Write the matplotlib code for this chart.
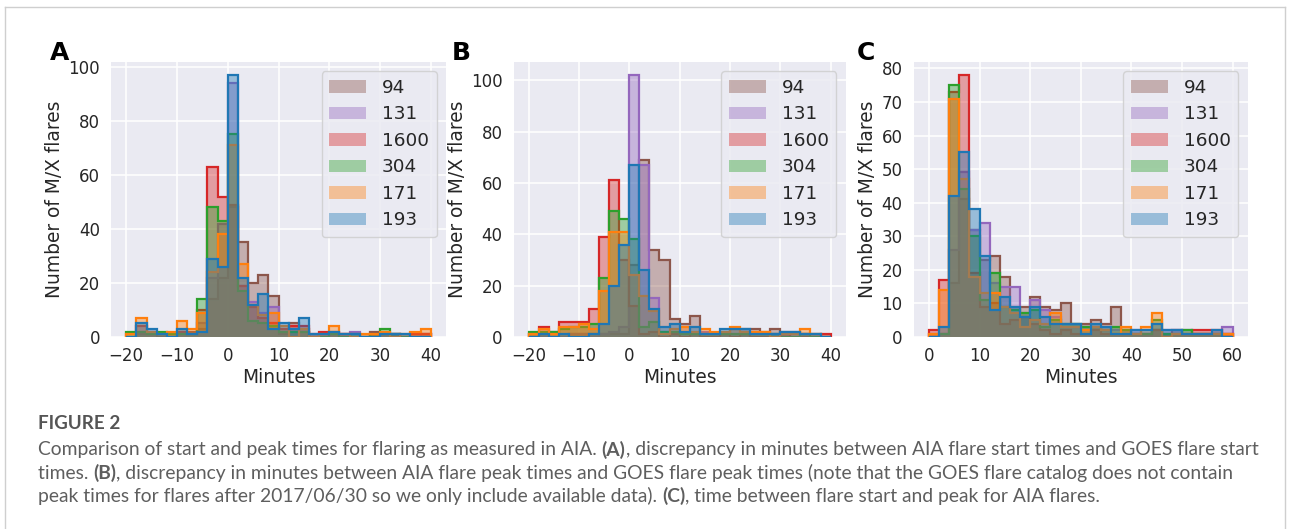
import numpy as np
import matplotlib
matplotlib.use("Agg")
import matplotlib.pyplot as plt
from matplotlib.transforms import IdentityTransform
from matplotlib.lines import Line2D

# ---------------- data ----------------
wavelengths = ["94", "131", "1600", "304", "171", "193"]
colors = ["tab:brown", "tab:purple", "tab:red", "tab:green", "tab:orange", "tab:blue"]

bin_width = 2
edges_A = np.arange(-20, 40 + bin_width, bin_width)
edges_B = np.arange(-20, 40 + bin_width, bin_width)
edges_C = np.arange(0, 60 + bin_width, bin_width)

# Panel A: AIA start - GOES start (minutes), counts per 2-min bin from -20
A94   = [0, 1, 1, 0, 1, 1, 2, 3, 14, 22, 48, 35, 20, 23, 15, 1, 5, 2, 0, 0, 1, 0, 0, 0, 2, 1, 1, 0, 1, 1]
A131  = [0, 2, 1, 1, 1, 2, 1, 5, 22, 42, 94, 19, 13, 9, 11, 3, 2, 3, 0, 1, 1, 1, 2, 0, 1, 1, 0, 0, 0, 1]
A1600 = [0, 4, 2, 1, 0, 2, 1, 10, 63, 52, 49, 19, 11, 7, 5, 3, 4, 4, 1, 2, 2, 1, 0, 0, 1, 1, 1, 0, 1, 1]
A304  = [2, 2, 1, 2, 1, 1, 1, 14, 48, 43, 75, 17, 6, 5, 4, 2, 2, 2, 0, 0, 1, 0, 1, 0, 1, 3, 1, 0, 0, 0]
A171  = [1, 7, 2, 1, 2, 6, 3, 9, 24, 38, 71, 27, 12, 8, 9, 4, 0, 3, 0, 1, 4, 1, 0, 1, 1, 2, 0, 1, 2, 3]
A193  = [0, 5, 3, 1, 0, 3, 1, 2, 29, 26, 97, 22, 12, 16, 3, 5, 3, 7, 1, 1, 2, 1, 1, 0, 0, 1, 1, 1, 0, 0]

# Panel B: AIA peak - GOES peak (minutes), counts per 2-min bin from -20
B94   = [0, 1, 0, 0, 1, 1, 1, 1, 1, 1, 28, 69, 34, 30, 7, 5, 8, 1, 1, 2, 3, 3, 3, 2, 3, 2, 2, 1, 1, 0]
B131  = [0, 0, 0, 0, 1, 1, 0, 1, 2, 4, 102, 67, 15, 2, 1, 1, 1, 2, 1, 1, 1, 1, 1, 1, 1, 1, 0, 1, 0, 0]
B1600 = [1, 4, 2, 6, 6, 6, 11, 39, 61, 30, 12, 1, 2, 0, 1, 0, 1, 0, 0, 1, 0, 1, 0, 0, 0, 1, 0, 0, 0, 1]
B304  = [2, 2, 2, 3, 4, 4, 5, 23, 49, 46, 38, 4, 6, 2, 2, 1, 1, 1, 1, 1, 1, 1, 1, 1, 1, 0, 0, 1, 0, 0]
B171  = [1, 3, 1, 4, 4, 5, 3, 18, 41, 41, 24, 16, 10, 1, 3, 4, 2, 3, 2, 2, 4, 2, 2, 2, 0, 1, 1, 3, 1, 0]
B193  = [0, 1, 0, 1, 0, 0, 1, 5, 20, 36, 67, 26, 11, 4, 5, 2, 4, 1, 1, 3, 3, 3, 1, 1, 1, 2, 2, 1, 1, 0]

# Panel C: AIA start -> peak (minutes), counts per 2-min bin from 0
C94   = [1, 1, 16, 41, 32, 23, 24, 18, 9, 9, 12, 9, 8, 10, 4, 4, 5, 4, 9, 2, 1, 1, 2, 1, 2, 1, 1, 1, 1, 1]
C131  = [0, 1, 26, 49, 32, 34, 16, 15, 15, 7, 11, 8, 6, 3, 3, 3, 3, 2, 2, 2, 2, 1, 2, 2, 2, 2, 1, 1, 1, 3]
C1600 = [2, 17, 73, 78, 19, 9, 10, 4, 5, 6, 4, 2, 1, 2, 1, 1, 2, 1, 1, 1, 1, 1, 2, 1, 1, 1, 2, 2, 2, 1]
C304  = [0, 1, 75, 44, 30, 11, 19, 9, 8, 7, 8, 3, 5, 4, 4, 3, 3, 2, 3, 2, 1, 1, 5, 1, 1, 2, 1, 1, 1, 0]
C171  = [1, 14, 71, 47, 18, 13, 13, 9, 7, 3, 5, 4, 7, 3, 3, 2, 3, 2, 1, 3, 1, 3, 7, 0, 1, 1, 1, 1, 1, 1]
C193  = [0, 3, 42, 55, 38, 24, 8, 12, 9, 6, 9, 6, 4, 4, 4, 1, 4, 3, 1, 1, 2, 2, 4, 2, 2, 1, 1, 1, 2, 0]

panels = [
    ("A", edges_A, [A94, A131, A1600, A304, A171, A193], [-20, -10, 0, 10, 20, 30, 40], [0, 20, 40, 60, 80, 100]),
    ("B", edges_B, [B94, B131, B1600, B304, B171, B193], [-20, -10, 0, 10, 20, 30, 40], [0, 20, 40, 60, 80, 100]),
    ("C", edges_C, [C94, C131, C1600, C304, C171, C193], [0, 10, 20, 30, 40, 50, 60], [0, 10, 20, 30, 40, 50, 60, 70, 80]),
]

xlabel = "Minutes"
ylabel = "Number of M/X flares"

caption_title = "FIGURE 2"
caption_lines = [
    [("Comparison of start and peak times for flaring as measured in AIA. ", "normal"), ("(A)", "bold"),
     (", discrepancy in minutes between AIA flare start times and GOES flare start", "normal")],
    [("times. ", "normal"), ("(B)", "bold"),
     (", discrepancy in minutes between AIA flare peak times and GOES flare peak times (note that the GOES flare catalog does not contain", "normal")],
    [("peak times for flares after 2017/06/30 so we only include available data). ", "normal"), ("(C)", "bold"),
     (", time between flare start and peak for AIA flares.", "normal")],
]

# ---------------- style ----------------
plt.rcParams.update({
    "font.family": ["DejaVu Sans"],
    "axes.facecolor": "#EAEAF2",
    "axes.edgecolor": "white",
    "axes.grid": True,
    "axes.axisbelow": True,
    "grid.color": "white",
    "grid.linewidth": 1.1,
    "text.color": ".15",
    "axes.labelcolor": ".15",
    "xtick.color": ".15",
    "ytick.color": ".15",
    "xtick.major.size": 0,
    "ytick.major.size": 0,
    "xtick.major.pad": 7.5,
    "ytick.major.pad": 8,
    "legend.frameon": True,
    "legend.framealpha": 0.8,
    "legend.edgecolor": "0.8",
    "legend.facecolor": "#EAEAF2",
})

W, H = 1290, 529
fig = plt.figure(figsize=(W / 100, H / 100), dpi=100)

# axes boxes in pixel coordinates (left, top, right, bottom)
boxes = [(111, 62, 446, 337), (513.5, 62, 845.7, 337), (913.8, 62, 1247.7, 337)]
letter_pos = [(50, 59.5), (452, 60), (857, 60)]

for (letter, edges, series, xt, yt), (l, t, r, b), (lx, ly) in zip(panels, boxes, letter_pos):
    ax = fig.add_axes([l / W, 1 - b / H, (r - l) / W, (b - t) / H])
    for spine in ax.spines.values():
        spine.set_visible(False)
    for name, col, vals in zip(wavelengths, colors, series):
        ax.stairs(vals, edges, fill=True, color=col, alpha=0.4, label=name, linewidth=0)
        ax.stairs(vals, edges, fill=False, color=col, linewidth=1.6)
    ax.set_xticks(xt)
    ax.set_yticks(yt)
    ax.set_xticklabels([str(v).replace("-", "\u2212") for v in xt])
    ax.tick_params(labelsize=12)
    ax.set_xlabel(xlabel, fontsize=13.4, labelpad=2)
    ax.set_ylabel(ylabel, fontsize=13.4, labelpad=3)
    handles, labels = ax.get_legend_handles_labels()
    ax.legend(handles, labels, loc="upper right", fontsize=13.3, handlelength=2.0,
              handletextpad=0.85, borderpad=0.42, labelspacing=0.46)
    fig.text(lx / W, 1 - ly / H, letter, fontsize=18, fontweight="bold", color="black",
             ha="left", va="baseline", family="DejaVu Sans")

# ---------------- caption ----------------
renderer = fig.canvas.get_renderer()
cap_color = "#5e5e5e"
cap_family = "Lato"


def line_width(segments, size):
    total = 0.0
    for txt, wt in segments:
        t = fig.text(0, 0, txt, fontsize=size, fontweight=wt, family=cap_family,
                     transform=IdentityTransform())
        total += t.get_window_extent(renderer).width
        t.remove()
    return total


x0 = 38
target = 1255 - x0
size = 12.0
size = size * target / line_width(caption_lines[0], size)

fig.text(x0, H - 429, caption_title, fontsize=size * 0.98, fontweight="bold", family=cap_family,
         color="#555555", transform=IdentityTransform(), va="baseline", ha="left")

baselines = [455.5, 479, 502]
for segs, yb in zip(caption_lines, baselines):
    x = x0
    for txt, wt in segs:
        t = fig.text(x, H - yb, txt, fontsize=size, fontweight=wt, family=cap_family,
                     color=cap_color, transform=IdentityTransform(), va="baseline", ha="left")
        x += t.get_window_extent(renderer).width

# outer frame
frame_col = "#cfcfcf"
fig.add_artist(Line2D([5 / W, 1285 / W], [1 - 7 / H, 1 - 7 / H], transform=fig.transFigure, color=frame_col, lw=1))
fig.add_artist(Line2D([5 / W, 5 / W], [0, 1 - 7 / H], transform=fig.transFigure, color=frame_col, lw=1))
fig.add_artist(Line2D([1285 / W, 1285 / W], [0, 1 - 7 / H], transform=fig.transFigure, color=frame_col, lw=1))

fig.savefig("out.png", dpi=100, facecolor="white")
